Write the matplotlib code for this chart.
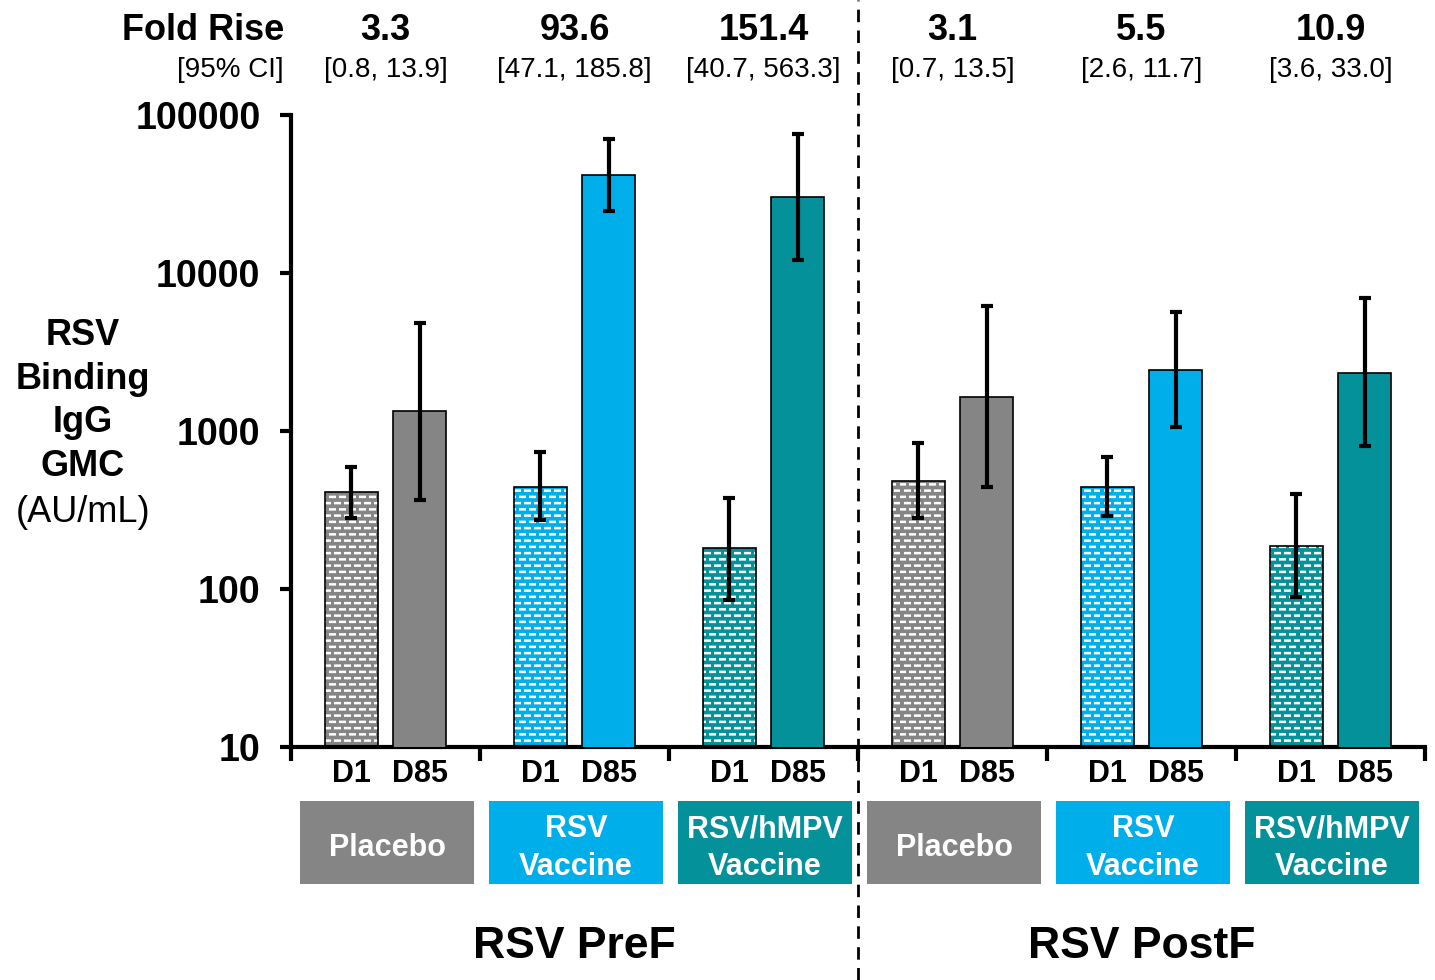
import matplotlib
matplotlib.use("Agg")
import matplotlib.pyplot as plt
import matplotlib.transforms as mtransforms
import matplotlib.hatch as mhatch
from matplotlib.patches import Rectangle
from matplotlib.lines import Line2D
from matplotlib.path import Path
import numpy as np

plt.rcParams['font.family'] = ['Liberation Sans', 'DejaVu Sans']

# ---- data ----
groups = ["Placebo", "RSV\nVaccine", "RSV/hMPV\nVaccine", "Placebo", "RSV\nVaccine", "RSV/hMPV\nVaccine"]
panels = ["RSV PreF", "RSV PostF"]
timepoints = ["D1", "D85"]
gmc_d1 = [411, 442, 182, 483, 442, 187]
gmc_d1_lo = [281, 273, 85, 281, 290, 89]
gmc_d1_hi = [592, 736, 377, 840, 684, 399]
gmc_d85 = [1339, 41700, 30300, 1641, 2433, 2328]
gmc_d85_lo = [366, 24700, 12080, 442, 1059, 803]
gmc_d85_hi = [4830, 70500, 75800, 6180, 5660, 6950]
fold_rise = ["3.3", "93.6", "151.4", "3.1", "5.5", "10.9"]
fold_ci = ["[0.8, 13.9]", "[47.1, 185.8]", "[40.7, 563.3]", "[0.7, 13.5]", "[2.6, 11.7]", "[3.6, 33.0]"]
yticks = [10, 100, 1000, 10000, 100000]
ytick_labels = ["10", "100", "1000", "10000", "100000"]

colors = ["#858585", "#00AEEA", "#04919A", "#858585", "#00AEEA", "#04919A"]


# ---- custom brick-of-dashes hatch (style only) ----
class DashBrick(mhatch.HatchPatternBase):
    NROWS = 16
    NCOLS = 10

    def __init__(self, hatch, density):
        self.on = hatch.count('-') > 0
        self.num_vertices = self.NROWS * self.NCOLS * 2 if self.on else 0

    def set_vertices_and_codes(self, vertices, codes):
        k = 0
        for r in range(self.NROWS):
            y = (r + 0.5) / self.NROWS
            shift = 0.5 / self.NCOLS if r % 2 else 0.0
            for c in range(self.NCOLS):
                x0 = c / self.NCOLS + shift + 0.02 / self.NCOLS
                x1 = x0 + 0.46 / self.NCOLS
                vertices[k] = (x0, y)
                vertices[k + 1] = (x1, y)
                codes[k] = Path.MOVETO
                codes[k + 1] = Path.LINETO
                k += 2


mhatch._hatch_types = [DashBrick]
plt.rcParams['hatch.linewidth'] = 1.8

W, H = 1435, 980
fig = plt.figure(figsize=(W / 100, H / 100), dpi=100)
ax = fig.add_axes([291 / W, 1 - 747 / H, (1425 - 291) / W, (747 - 115) / H])

n = len(groups)
x = np.arange(n)
off1, off2, bw = 0.32, 0.68, 0.28

for i in range(n):
    ax.bar(x[i] + off1, gmc_d1[i], width=bw, color=colors[i], edgecolor="white",
           hatch="-", linewidth=0, zorder=2)
    ax.bar(x[i] + off1, gmc_d1[i], width=bw, fill=False, edgecolor="black", linewidth=1.2, zorder=3)
    ax.bar(x[i] + off2, gmc_d85[i], width=bw, color=colors[i], edgecolor="black", linewidth=1.2, zorder=3)
    ax.errorbar(x[i] + off1, gmc_d1[i],
                yerr=[[gmc_d1[i] - gmc_d1_lo[i]], [gmc_d1_hi[i] - gmc_d1[i]]],
                fmt="none", ecolor="black", elinewidth=3, capsize=4.5, capthick=3, zorder=4)
    ax.errorbar(x[i] + off2, gmc_d85[i],
                yerr=[[gmc_d85[i] - gmc_d85_lo[i]], [gmc_d85_hi[i] - gmc_d85[i]]],
                fmt="none", ecolor="black", elinewidth=3, capsize=4.5, capthick=3, zorder=4)

ax.set_yscale("log")
ax.set_ylim(10, 100000)
ax.set_xlim(0, n)
ax.set_yticks(yticks)
ax.set_yticklabels(ytick_labels, fontsize=27, fontweight="bold")
ax.yaxis.set_minor_locator(matplotlib.ticker.NullLocator())
ax.set_xticks(np.arange(n + 1))
ax.set_xticklabels([])
ax.tick_params(axis="y", direction="out", length=8, width=3, pad=14)
ax.tick_params(axis="x", direction="out", length=10, width=3)
for s in ["top", "right"]:
    ax.spines[s].set_visible(False)
for s in ["left", "bottom"]:
    ax.spines[s].set_linewidth(3)

tr = mtransforms.blended_transform_factory(ax.transData, fig.transFigure)


def fy(py):
    return 1 - py / H


for i in range(n):
    fig.text(x[i] + off1, fy(774), timepoints[0], transform=tr, ha="center", va="center",
             fontsize=22, fontweight="bold")
    fig.text(x[i] + off2, fy(774), timepoints[1], transform=tr, ha="center", va="center",
             fontsize=22, fontweight="bold")
    rect = Rectangle((x[i] + 0.048, fy(884)), 0.92, (884 - 801) / H, transform=tr,
                     facecolor=colors[i], edgecolor="none", clip_on=False, zorder=1)
    fig.add_artist(rect)
    fig.text(x[i] + 0.508, fy(848), groups[i], transform=tr, ha="center", va="center",
             fontsize=22, fontweight="bold", color="white", linespacing=1.32, zorder=5)
    fig.text(x[i] + 0.5, fy(31), fold_rise[i], transform=tr, ha="center", va="center",
             fontsize=26, fontweight="bold")
    fig.text(x[i] + 0.5, fy(70), fold_ci[i], transform=tr, ha="center", va="center",
             fontsize=20)

for j, p in enumerate(panels):
    fig.text(1.5 + 3 * j, fy(946), p, transform=tr, ha="center", va="center",
             fontsize=32, fontweight="bold")

fig.text(284 / W, fy(31), "Fold Rise", ha="right", va="center", fontsize=26, fontweight="bold")
fig.text(284 / W, fy(70), "[95% CI]", ha="right", va="center", fontsize=20)

fig.text(83 / W, fy(401), "RSV\nBinding\nIgG\nGMC", ha="center", va="center",
         fontsize=26, fontweight="bold", linespacing=1.33)
fig.text(83 / W, fy(513), "(AU/mL)", ha="center", va="center", fontsize=26)

line = Line2D([3, 3], [0, 1], transform=tr, color="black", linewidth=2,
              linestyle=(0, (4.5, 3)), clip_on=False)
fig.add_artist(line)

fig.savefig("out.png", dpi=100)
